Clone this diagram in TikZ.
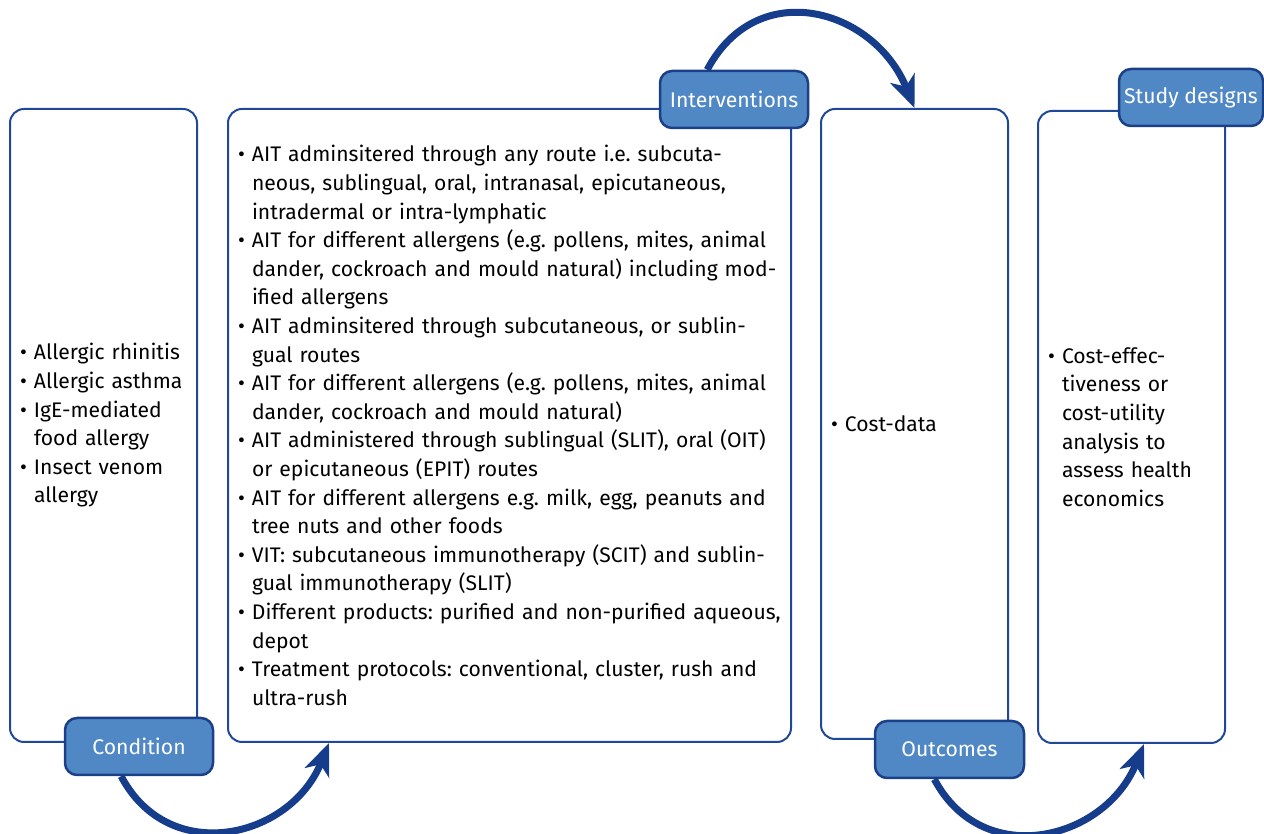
\documentclass[tikz,border=0pt]{standalone}
\usepackage{fontspec}
\setmainfont{Fira Sans}
\usetikzlibrary{arrows.meta}
\definecolor{boxline}{RGB}{31,72,150}
\definecolor{labfill}{RGB}{80,136,198}
\definecolor{labline}{RGB}{28,64,135}
\definecolor{arcblue}{RGB}{22,60,140}
\newcommand{\itm}[1]{\mbox{\makebox[14pt][l]{\textbullet}#1}}
\newcommand{\cnt}[1]{\mbox{\hspace*{14pt}#1}}
\frenchspacing

\begin{document}
\begin{tikzpicture}[x=1pt,y=1pt,
  panel/.style={draw=boxline,line width=2pt,rounded corners=14pt,fill=white,
    minimum height=633pt,inner xsep=10pt,align=left,
    font=\fontsize{21.1}{28.6}\selectfont},
  tag/.style={draw=labline,line width=2.5pt,fill=labfill,rounded corners=12pt,
    text=white,minimum width=148pt,minimum height=57pt,inner xsep=2pt,
    font=\fontsize{21.2}{25}\selectfont},
  arc/.style={draw=arcblue,line width=7pt,
    -{Stealth[length=32pt,width=26pt,inset=9pt]}}]
  \useasboundingbox (0,0) rectangle (1264,834);

  % the four panels
  \node[panel,text width=167pt] (condbox) at (103.5,408.5)
    {\itm{Allergic rhinitis}\\ \itm{Allergic asthma}\\ \itm{IgE-mediated}\\
     \cnt{food allergy}\\ \itm{Insect venom}\\ \cnt{allergy}};
  \node[panel,text width=543pt] (intbox) at (509.5,408.5)
    {\itm{AIT adminsitered through any route i.e. subcuta-}\\
     \cnt{neous, sublingual, oral, intranasal, epicutaneous,}\\
     \cnt{intradermal or intra-lymphatic}\\
     \itm{AIT for different allergens (e.g. pollens, mites, animal}\\
     \cnt{dander, cockroach and mould natural) including mod-}\\
     \cnt{ified allergens}\\
     \itm{AIT adminsitered through subcutaneous, or sublin-}\\
     \cnt{gual routes}\\
     \itm{AIT for different allergens (e.g. pollens, mites, animal}\\
     \cnt{dander, cockroach and mould natural)}\\
     \itm{AIT administered through sublingual (SLIT), oral (OIT)}\\
     \cnt{or epicutaneous (EPIT) routes}\\
     \itm{AIT for different allergens e.g. milk, egg, peanuts and}\\
     \cnt{tree nuts and other foods}\\
     \itm{VIT: subcutaneous immunotherapy (SCIT) and sublin-}\\
     \cnt{gual immunotherapy (SLIT)}\\
     \itm{Different products: purified and non-purified aqueous,}\\
     \cnt{depot}\\
     \itm{Treatment protocols: conventional, cluster, rush and}\\
     \cnt{ultra-rush}};
  \node[panel,text width=167pt,minimum height=630pt] (outbox) at (914.5,410)
    {\itm{Cost-data}};
  \node[panel,text width=167pt,minimum height=632pt] (studybox) at (1131.5,407)
    {\itm{Cost-effec-}\\ \cnt{tiveness or}\\ \cnt{cost-utility}\\
     \cnt{analysis to}\\ \cnt{assess health}\\ \cnt{economics}};

  % labels on the corners
  \node[tag] (condlab) at (139,87.5) {Condition};
  \node[tag] (intlab) at (734,734.5) {Interventions};
  \node[tag,minimum width=149pt] (outlab) at (949.5,84.5) {Outcomes};
  \node[tag,minimum width=144pt] (studylab) at (1191,736.5) {Study designs};

  % arcs
  \draw[arc] (condlab.-121) to[out=-62,in=-112,looseness=1.25]
    ([xshift=102pt]intbox.south west);
  \draw[arc] (intlab.132) to[out=62,in=112,looseness=1.3] (outbox.north);
  \draw[arc] (outlab.-117) to[out=-62,in=-112,looseness=1.25]
    ([xshift=107pt]studybox.south west);
\end{tikzpicture}
\end{document}
